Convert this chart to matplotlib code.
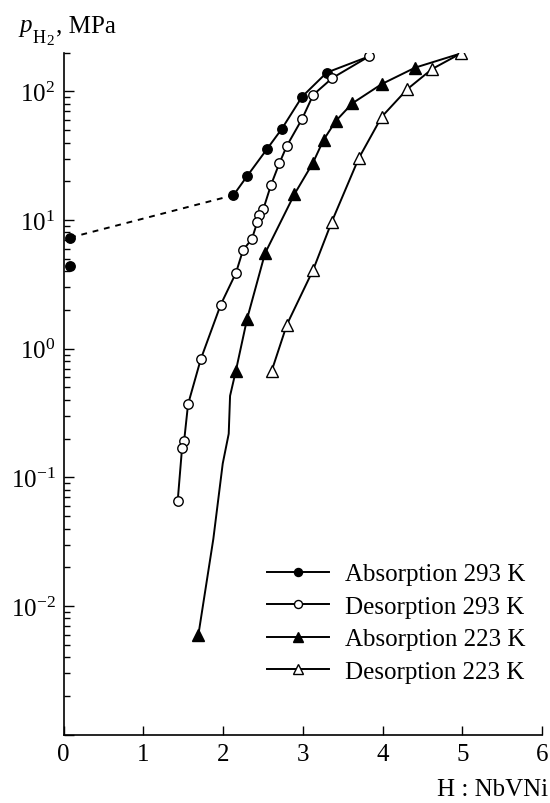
import numpy as np
import matplotlib.pyplot as plt
from matplotlib.lines import Line2D
from matplotlib.ticker import LogLocator, FuncFormatter, FixedLocator

plt.rcParams['font.family'] = ['Liberation Serif', 'DejaVu Serif']
plt.rcParams['mathtext.fontset'] = 'custom'
plt.rcParams['mathtext.rm'] = 'Liberation Serif'
plt.rcParams['mathtext.it'] = 'Liberation Serif:italic'

# data (H : NbVNi, pressure in MPa)
abs293_x = [0.08, 0.08, 2.13, 2.30, 2.55, 2.735, 2.99, 3.30]
abs293_y = [4.4, 7.3, 15.6, 21.9, 35.6, 51.0, 90.8, 140.0]

des293_x = [3.83, 3.37, 3.13, 2.99, 2.80, 2.705, 2.60, 2.505, 2.455, 2.43,
            2.36, 2.25, 2.16, 1.97, 1.72, 1.56, 1.51, 1.485, 1.43]
des293_y = [187.0, 127.0, 94.0, 61.0, 37.8, 27.6, 18.7, 12.2, 11.0, 9.7,
            7.1, 5.85, 3.87, 2.2, 0.83, 0.37, 0.19, 0.17, 0.0656]

abs223_x = [1.69, 2.16, 2.30, 2.525, 2.895, 3.125, 3.26, 3.415, 3.62, 3.99, 4.41]
abs223_y = [0.0060, 0.675, 1.70, 5.5, 15.9, 27.7, 42.0, 59.0, 80.7, 114.0, 153.0]
# traced curve between the two lowest filled triangles (no markers there)
abs223_gap_x = [1.69, 1.877, 1.995, 2.07, 2.087, 2.16]
abs223_gap_y = [0.0060, 0.0332, 0.128, 0.218, 0.43, 0.675]

des223_x = [4.98, 4.62, 4.31, 3.99, 3.70, 3.36, 3.13, 2.80, 2.61]
des223_y = [197.0, 149.0, 104.0, 63.5, 30.1, 9.6, 4.11, 1.54, 0.675]

labels = ['Absorption 293 K', 'Desorption 293 K', 'Absorption 223 K', 'Desorption 223 K']

W, H = 550, 804
fig = plt.figure(figsize=(W / 100, H / 100), dpi=100)
ax = fig.add_axes([0.1158, 0.085, 0.8697, 0.8483])

lw = 1.4
k = 'black'

# lines
ax.plot(abs293_x[1:3], abs293_y[1:3], color=k, lw=lw, ls=(0, (3, 3)), zorder=2)
ax.plot(abs293_x[2:] + [des293_x[0]], abs293_y[2:] + [des293_y[0]], color=k, lw=lw, zorder=2)
ax.plot(des293_x, des293_y, color=k, lw=lw, zorder=2)
ax.plot(abs223_gap_x, abs223_gap_y, color=k, lw=lw, zorder=2)
ax.plot(abs223_x[1:] + [des223_x[0]], abs223_y[1:] + [des223_y[0]], color=k, lw=lw, zorder=2)
ax.plot(des223_x, des223_y, color=k, lw=lw, zorder=2)

# markers
ms_c = 6.8
ms_t = 8.0
ax.plot(abs293_x, abs293_y, 'o', ms=ms_c, mfc=k, mec=k, mew=1.0, zorder=3)
ax.plot(des293_x, des293_y, 'o', ms=ms_c, mfc='white', mec=k, mew=1.0, zorder=3)
ax.plot(abs223_x, abs223_y, '^', ms=ms_t, mfc=k, mec=k, mew=1.0, zorder=3)
ax.plot(des223_x, des223_y, '^', ms=ms_t, mfc='white', mec=k, mew=1.0, zorder=3)

ax.set_yscale('log')
ax.set_xlim(0, 6)
ax.set_ylim(1e-3, 200)

ax.spines['top'].set_visible(False)
ax.spines['right'].set_visible(False)
for s in ['left', 'bottom']:
    ax.spines[s].set_linewidth(1.2)

ax.xaxis.set_major_locator(FixedLocator([0, 1, 2, 3, 4, 5, 6]))
ax.set_xticklabels(['0', '1', '2', '3', '4', '5', '6'])
ax.yaxis.set_major_locator(LogLocator(base=10, numticks=10))
ax.yaxis.set_minor_locator(LogLocator(base=10, subs=np.arange(2, 10), numticks=20))


def ylab(v, pos):
    e = int(round(np.log10(v)))
    if e < -2 or e > 2:
        return ''
    return r'$10^{%d}$' % e


ax.yaxis.set_major_formatter(FuncFormatter(ylab))
ax.yaxis.set_minor_formatter(FuncFormatter(lambda v, p: ''))

ax.tick_params(axis='x', which='major', direction='in', length=6.5, width=1.0,
               labelsize=18, pad=6)
ax.tick_params(axis='y', which='major', direction='in', length=7, width=1.0,
               labelsize=18, pad=6)
ax.tick_params(axis='y', which='minor', direction='in', length=4.5, width=1.0)

# y axis title p_H2, MPa built from pieces (pixel positions from top-left)
def ftext(px, py, s, size, **kw):
    fig.text(px / W, 1 - py / H, s, fontsize=size, ha='left', va='baseline', **kw)


ftext(19, 32, 'p', 18, style='italic')
ftext(33, 43, 'H', 13)
ftext(46.5, 45, '2', 11)
ftext(56, 32, ', MPa', 18)

fig.text(0.996, 0.004, 'H : NbVNi', fontsize=18, ha='right', va='bottom')

handles = [
    Line2D([], [], color=k, lw=lw, marker='o', ms=ms_c, mfc=k, mec=k),
    Line2D([], [], color=k, lw=lw, marker='o', ms=ms_c, mfc='white', mec=k),
    Line2D([], [], color=k, lw=lw, marker='^', ms=ms_t, mfc=k, mec=k),
    Line2D([], [], color=k, lw=lw, marker='^', ms=ms_t, mfc='white', mec=k),
]
fig.legend(handles, labels, loc='center', bbox_to_anchor=(0.72, 0.224),
           bbox_transform=fig.transFigure, frameon=False, fontsize=18,
           handlelength=2.5, handletextpad=0.64, labelspacing=0.4,
           borderpad=0, markerscale=0.85)

fig.savefig('out.png', dpi=100)
